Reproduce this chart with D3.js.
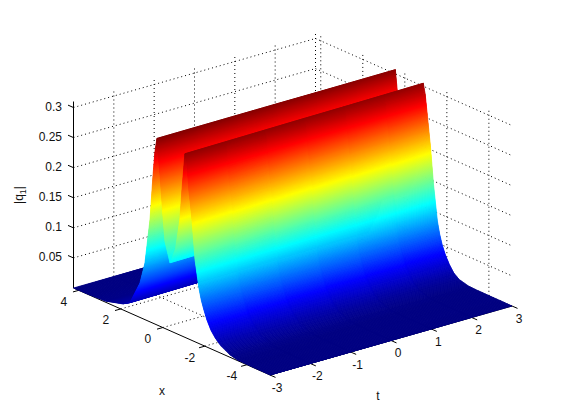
<!DOCTYPE html>
<html><head><meta charset="utf-8">
<style>html,body{margin:0;padding:0;background:#fff}svg{display:block}
text{font-family:"Liberation Sans",Arial,sans-serif;font-size:12px;fill:#111}</style>
<script src="https://cdn.jsdelivr.net/npm/d3@7/dist/d3.min.js"></script></head>
<body><svg id="c" width="561" height="420"></svg>
<script>
// Data
const xTicks = [4, 2, 0, -2, -4];
const tTicks = [-3, -2, -1, 0, 1, 2, 3];
const zTicks = [0.05, 0.1, 0.15, 0.2, 0.25, 0.3];
const zTickLabels = ["0.05", "0.1", "0.15", "0.2", "0.25", "0.3"];
const xLimits = [-5.1, 4.25];
const tLimits = [-3, 3];
const zLimits = [0, 0.31];
// surface sections read at the two open ends of the surface (t = -3 and t = 3)
const sectionX = [-5.1, -3.57, -3.2, -2.76, -2.5, -2.29, -2.1, -1.95, -1.83, -1.72, -1.53, -1.39, -1.24, -1.14, -1.05, -0.91, -0.81, -0.6, -0.34, -0.1, 0, 0.14, 0.28, 0.38, 0.47, 0.61, 0.85, 1.09, 1.57, 1.9, 2.71, 3.5, 4.25];
const sectionZStart = [0.0002, 0.001, 0.004, 0.0125, 0.021, 0.031, 0.045, 0.06, 0.074, 0.092, 0.137, 0.2, 0.248, 0.296, 0.305, 0.243, 0.192, 0.14, 0.113, 0.145, 0.188, 0.255, 0.31, 0.285, 0.244, 0.17, 0.094, 0.057, 0.017, 0.01, 0.002, 0.0005, 0];
const sectionZEnd = [0, 0.0004, 0.001, 0.005, 0.012, 0.023, 0.036, 0.05, 0.066, 0.086, 0.146, 0.205, 0.255, 0.288, 0.305, 0.243, 0.192, 0.14, 0.113, 0.145, 0.188, 0.255, 0.307, 0.285, 0.244, 0.17, 0.094, 0.057, 0.017, 0.01, 0.002, 0.0005, 0];
// drift of the two ridges along t
const rowT = [-3, -2, -1, 0, 1, 2, 3];
const rowShift = [0, 0.03, 0.06, 0.09, 0.11, 0.14, 0.17];

const svg = d3.select("#c");
const origin = [270, 375];
const tX = d3.scaleLinear().domain(tLimits).range([0, 242]);
const tY = d3.scaleLinear().domain(tLimits).range([0, -69]);
const xX = d3.scaleLinear().domain(xLimits).range([0, -196.5]);
const xY = d3.scaleLinear().domain(xLimits).range([0, -87]);
const zY = d3.scaleLinear().domain(zLimits).range([0, -186.5]);
const project = (x, t, z) => [origin[0] + tX(t) + xX(x), origin[1] + tY(t) + xY(x) + zY(z)];

const jet = d3.scaleLinear()
  .domain([0, .125, .375, .625, .875, 1].map(f => f * zLimits[1]))
  .range(["#000080", "#0000ff", "#00ffff", "#ffff00", "#ff0000", "#800000"]);
const sectionA = d3.scaleLinear().domain(sectionX).range(sectionZStart).clamp(true);
const sectionB = d3.scaleLinear().domain(sectionX).range(sectionZEnd).clamp(true);
const blend = d3.scaleLinear().domain(tLimits).range([0, 1]);
const zAt = (d, t) => d3.interpolateNumber(sectionA(d), sectionB(d))(blend(t));
const line = d3.line();

// dotted grid on floor and back walls
const grid = svg.append("g").attr("fill", "none").attr("stroke", "#000")
  .attr("stroke-width", 1).attr("stroke-dasharray", "1 3");
const gl = (a, b) => grid.append("path").attr("d", line([project(...a), project(...b)]));
zTicks.forEach(z => {
  gl([xLimits[1], tLimits[0], z], [xLimits[1], tLimits[1], z]);
  gl([xLimits[1], tLimits[1], z], [xLimits[0], tLimits[1], z]);
});
tTicks.slice(1).forEach(t => {
  gl([xLimits[1], t, 0], [xLimits[1], t, zLimits[1]]);
  gl([xLimits[0], t, 0], [xLimits[1], t, 0]);
});
xTicks.forEach(x => {
  gl([x, tLimits[1], 0], [x, tLimits[1], zLimits[1]]);
  gl([x, tLimits[0], 0], [x, tLimits[1], 0]);
});

// axes
const ax = svg.append("g").attr("fill", "none").attr("stroke", "#000").attr("stroke-width", 1);
const al = (a, b) => ax.append("path").attr("d", line([a, b]));
const c0 = project(xLimits[1], tLimits[0], 0), c1 = project(xLimits[0], tLimits[0], 0), c2 = project(xLimits[0], tLimits[1], 0);
al(c0, project(xLimits[1], tLimits[0], zLimits[1]));
al(c0, c1); al(c1, c2);
zTicks.forEach(z => { const p = project(xLimits[1], tLimits[0], z); al(p, [p[0] - 5.5, p[1] - 2.4]); });
xTicks.forEach(x => { const p = project(x, tLimits[0], 0); al(p, [p[0] - 5.8, p[1] + 1.6]); });
tTicks.forEach(t => { const p = project(xLimits[0], t, 0); al(p, [p[0] + 5.5, p[1] + 2.4]); });

// surface, painted far to near as thin interpolated-colour cells;
// each table interval is cut finely enough that a band stays about a pixel tall
const surf = svg.append("g");
const maxShift = rowShift[rowShift.length - 1];
const clampX = d3.scaleLinear().domain(xLimits).range(xLimits).clamp(true);
const edges = [];
const knots = [xLimits[0] - maxShift].concat(sectionX.slice(1));
for (let k = knots.length - 1; k > 0; k--) {
  const hi = knots[k], lo = knots[k - 1];
  const dz = Math.abs(sectionA(hi) - sectionA(lo));
  const pieces = Math.max(1, Math.ceil(Math.max(dz / 0.0012, (hi - lo) / 0.05)));
  for (let j = 0; j < pieces; j++) edges.push(hi - (hi - lo) * j / pieces);
}
edges.push(knots[0]);
for (let n = 0; n < edges.length - 1; n++) {
  const dHi = edges[n], dLo = edges[n + 1];
  for (let i = rowT.length - 1; i > 0; i--) {
    const t1 = rowT[i], t0 = rowT[i - 1], s1 = rowShift[i], s0 = rowShift[i - 1];
    const a = zAt(dHi, t1), b = zAt(dHi, t0), c = zAt(dLo, t0), e = zAt(dLo, t1);
    const col = jet((a + b + c + e) / 4);
    const poly = [
      project(clampX(dHi + s1), t1, a),
      project(clampX(dHi + s0), t0, b),
      project(clampX(dLo + s0), t0, c),
      project(clampX(dLo + s1), t1, e)
    ];
    surf.append("path").attr("d", line(poly) + "Z")
      .attr("fill", col).attr("stroke", col).attr("stroke-width", 0.8);
  }
}

// tick labels and axis titles
const lab = svg.append("g");
zTicks.forEach((z, i) => {
  const p = project(xLimits[1], tLimits[0], z);
  lab.append("text").attr("x", 62).attr("y", p[1] + 3).attr("text-anchor", "end").text(zTickLabels[i]);
});
xTicks.forEach(x => {
  const p = project(x, tLimits[0], 0);
  lab.append("text").attr("x", p[0] - 15).attr("y", p[1] + 15.5).attr("text-anchor", "middle").text(x);
});
tTicks.forEach(t => {
  const p = project(xLimits[0], t, 0);
  lab.append("text").attr("x", p[0] + 7).attr("y", p[1] + 16.5).attr("text-anchor", "middle").text(t);
});
lab.append("text").attr("x", 162).attr("y", 395).attr("text-anchor", "middle").text("x");
lab.append("text").attr("x", 378).attr("y", 400).attr("text-anchor", "middle").text("t");
const yl = lab.append("text").attr("transform", "translate(23,195) rotate(-90)").attr("text-anchor", "middle");
yl.append("tspan").text("|q");
yl.append("tspan").attr("style", "font-size:9px").attr("dy", 3).text("1");
yl.append("tspan").attr("dy", -3).text("|");
</script></body></html>
